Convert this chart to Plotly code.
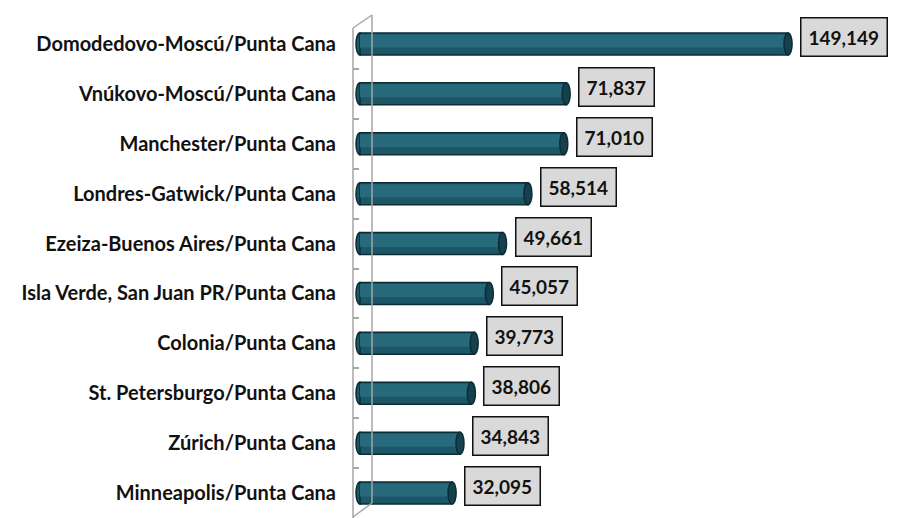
import plotly.graph_objects as go

routes = [
    "Domodedovo-Moscú/Punta Cana",
    "Vnúkovo-Moscú/Punta Cana",
    "Manchester/Punta Cana",
    "Londres-Gatwick/Punta Cana",
    "Ezeiza-Buenos Aires/Punta Cana",
    "Isla Verde, San Juan PR/Punta Cana",
    "Colonia/Punta Cana",
    "St. Petersburgo/Punta Cana",
    "Zúrich/Punta Cana",
    "Minneapolis/Punta Cana",
]
passengers = [149149, 71837, 71010, 58514, 49661, 45057, 39773, 38806, 34843, 32095]

MAIN = "#1d5666"
HIGH = "#276a7b"
EDGE = "#0c2c36"
CAP = "#15414e"

fig = go.Figure()
fig.add_trace(go.Bar(
    y=routes, x=passengers, orientation="h", width=0.44,
    marker=dict(color=MAIN, line=dict(color=EDGE, width=1.5)),
    hoverinfo="skip",
))
fig.add_trace(go.Bar(
    y=routes, x=passengers, orientation="h", width=0.26, offset=-0.19,
    marker=dict(color=HIGH, line=dict(width=0)),
    hoverinfo="skip",
))

shapes = []
capw = 1400
for i, v in enumerate(passengers):
    shapes.append(dict(type="circle", xref="x", yref="y", layer="below",
                       x0=-capw, x1=capw, y0=i - 0.22, y1=i + 0.22,
                       fillcolor=MAIN, line=dict(color=EDGE, width=1.5)))
    shapes.append(dict(type="circle", xref="x", yref="y", layer="above",
                       x0=v - capw, x1=v + capw, y0=i - 0.22, y1=i + 0.22,
                       fillcolor=CAP, line=dict(color=EDGE, width=1.5)))

# 3D wall lines
gray = "#a6a6a6"
wx = (372 - 353) / 535
def py(p):
    return 1 - (p - 19) / 499
shapes += [
    dict(type="line", xref="paper", yref="paper", x0=0, x1=0, y0=py(28), y1=py(520), line=dict(color=gray, width=1.5)),
    dict(type="line", xref="paper", yref="paper", x0=wx, x1=wx, y0=py(15), y1=py(503), line=dict(color=gray, width=1.5)),
    dict(type="line", xref="paper", yref="paper", x0=0, x1=wx, y0=py(28), y1=py(15), line=dict(color=gray, width=1.5)),
    dict(type="line", xref="paper", yref="paper", x0=wx, x1=0, y0=py(503), y1=py(517), line=dict(color=gray, width=1.5)),
]

annotations = []
for r, v in zip(routes, passengers):
    annotations.append(dict(
        x=v, y=r, xref="x", yref="y", text=f"{v:,}", showarrow=False,
        xanchor="left", yanchor="middle", xshift=12, yshift=7,
        font=dict(family="Lato", size=19, color="#111111", weight="bold"),
        bgcolor="#d9d9d9", bordercolor="#111111", borderwidth=1.5, borderpad=7,
    ))

fig.update_layout(
    width=898, height=518,
    margin=dict(l=353, r=10, t=19, b=0),
    paper_bgcolor="white", plot_bgcolor="white",
    barmode="overlay", showlegend=False,
    shapes=shapes, annotations=annotations,
    xaxis=dict(range=[-2439, 183972], showgrid=False, zeroline=False,
               showticklabels=False, showline=False),
    yaxis=dict(autorange=False, range=[9.5, -0.5], type="category",
               showgrid=False, zeroline=False, showline=False,
               ticks="inside", tickson="boundaries", ticklen=6, tickcolor=gray, tickwidth=1.5,
               ticklabelstandoff=16,
               tickfont=dict(family="Lato", size=20, color="#111111", weight="bold")),
)

fig.write_html("out.html", config={"displayModeBar": False},
               post_script="document.body.style.margin='0';")
